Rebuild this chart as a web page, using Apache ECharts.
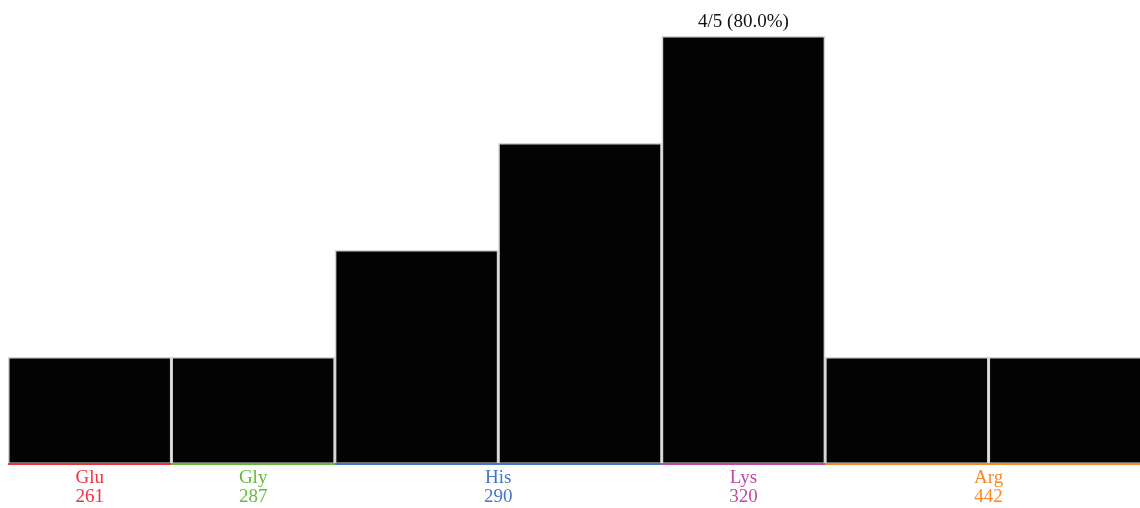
<!DOCTYPE html>
<html>
<head>
<meta charset="utf-8">
<style>
  html, body { margin: 0; padding: 0; background: #fff; overflow: hidden; }
  #chart { width: 1152px; height: 508px; }
</style>
<script src="https://cdn.jsdelivr.net/npm/echarts@6/dist/echarts.min.js"></script>
</head>
<body>
<div id="chart"></div>
<script>
// Per-bin counts (out of a total of 5 sequences)
const counts = [1, 1, 2, 3, 4, 1, 1];
const total = 5;

// Residue groups along the axis: name, position, number of bins covered, colour
const residues = ['Glu', 'Gly', 'His', 'Lys', 'Arg'];
const positions = [261, 287, 290, 320, 442];
const spans = [1, 1, 2, 1, 2];
const residueColors = ['#f2303f', '#66bb3a', '#4a74c9', '#c04aa6', '#f78a26'];

const bins = counts.map((_, i) => String(i));
const maxCount = Math.max(...counts);

// start bin index for each residue group
const starts = [];
spans.reduce((acc, s) => { starts.push(acc); return acc + s; }, 0);

const FONT = '"Liberation Serif", "DejaVu Serif", serif';

const chart = echarts.init(document.getElementById('chart'), null, { renderer: 'canvas' });

chart.setOption({
  animation: false,
  grid: { left: 8, right: 0, top: 36, bottom: 44, containLabel: false, outerBoundsMode: 'none' },
  xAxis: {
    type: 'category',
    data: bins,
    axisLine: { show: false },
    axisTick: { show: false },
    axisLabel: { show: false },
    splitLine: { show: false }
  },
  yAxis: {
    type: 'value',
    min: 0,
    max: maxCount,
    show: false,
    splitLine: { show: false }
  },
  series: [
    {
      type: 'bar',
      data: counts,
      barCategoryGap: 0,
      itemStyle: { color: '#030303', borderColor: '#d4d4d4', borderWidth: 1.5 },
      label: {
        show: true,
        position: 'top',
        distance: 4,
        fontFamily: FONT,
        fontSize: 19,
        color: '#111',
        formatter: p => p.value === maxCount
          ? p.value + '/' + total + ' (' + (p.value / total * 100).toFixed(1) + '%)'
          : ''
      }
    },
    {
      // coloured axis segments with residue name and position underneath
      type: 'custom',
      data: residues.map((_, i) => [starts[i], 0]),
      encode: { x: 0, y: 1 },
      z: 5,
      clip: false,
      renderItem: function (params, api) {
        const i = params.dataIndex;
        const band = api.size([1, 0])[0];
        const c0 = api.coord([starts[i], 0]);
        const c1 = api.coord([starts[i] + spans[i] - 1, 0]);
        const x0 = c0[0] - band / 2;
        const x1 = c1[0] + band / 2;
        const y = c0[1];
        const cx = (x0 + x1) / 2;
        const col = residueColors[i];
        return {
          type: 'group',
          children: [
            { type: 'line', shape: { x1: x0, y1: y, x2: x1, y2: y },
              style: { stroke: col, lineWidth: 2 } },
            { type: 'text', x: cx, y: y + 5,
              style: { text: residues[i] + '\n' + positions[i], fill: col,
                       font: '19px ' + FONT, lineHeight: 19,
                       align: 'center', verticalAlign: 'top' } }
          ]
        };
      }
    }
  ]
});
</script>
</body>
</html>
